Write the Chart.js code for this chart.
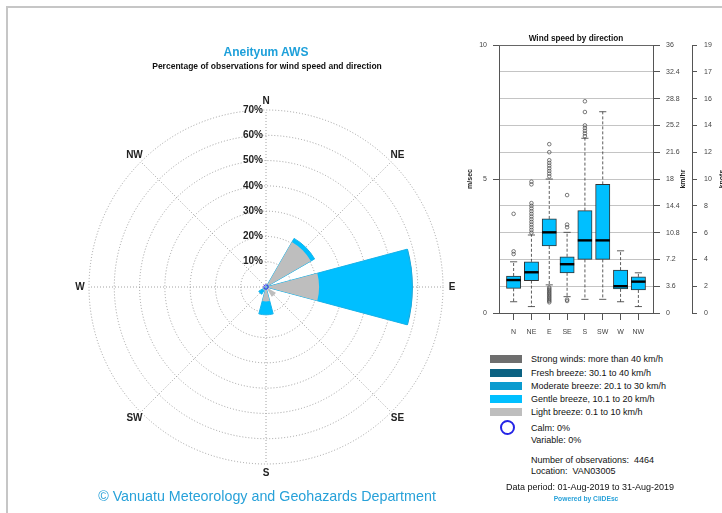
<!DOCTYPE html>
<html>
<head>
<meta charset="utf-8">
<script src="https://cdn.jsdelivr.net/npm/chart.js@4.4.1/dist/chart.umd.min.js"></script>
<style>
  html, body { margin: 0; padding: 0; background: #fff; }
  body { width: 722px; height: 513px; position: relative; overflow: hidden;
         font-family: "Liberation Sans", Arial, Helvetica, sans-serif; }
  .frame { position: absolute; left: 6px; top: 6px; width: 800px; height: 600px;
           border-left: 2px solid #c6c6c6; border-top: 2px solid #c6c6c6; }
  canvas { position: absolute; }
  #rose { left: 0; top: 0; }
  #box { left: 460px; top: 28px; }
  .t { position: absolute; white-space: nowrap; line-height: 1; }
  .c { transform: translate(-50%, -50%); }
  .l { transform: translateY(-50%); }
  .sw { position: absolute; width: 32px; height: 8px; }
  .calm { position: absolute; width: 11px; height: 11px; border: 2px solid #2424e6; border-radius: 50%; }
</style>
</head>
<body>
<div class="frame"></div>
<canvas id="rose" width="460" height="513"></canvas>
<canvas id="box" width="268" height="320"></canvas>

<div class="t c" style="left:266px; top:52px; font-size:12px; font-weight:bold; color:#1ea0da;">Aneityum AWS</div>
<div class="t c" style="left:267px; top:66px; font-size:8.5px; font-weight:bold; color:#111;">Percentage of observations for wind speed and direction</div>
<div class="t c" style="left:267px; top:496px; font-size:14.3px; color:#27a1d9;">© Vanuatu Meteorology and Geohazards Department</div>
<div class="t c" style="left:576px; top:39px; font-size:8.2px; font-weight:bold; color:#111;">Wind speed by direction</div>

<div id="legend"></div>
<div class="calm" style="left:500px; top:420px;"></div>
<div class="t l" style="left:531px; top:428px; font-size:9px; color:#111;">Calm: 0%</div>
<div class="t l" style="left:531px; top:440px; font-size:9px; color:#111;">Variable: 0%</div>
<div class="t l" style="left:531px; top:460px; font-size:9px; color:#111;">Number of observations:&nbsp; 4464</div>
<div class="t l" style="left:531px; top:471px; font-size:9px; color:#111;">Location:&nbsp; VAN03005</div>
<div class="t c" style="left:590px; top:486.5px; font-size:9px; color:#111;">Data period: 01-Aug-2019 to 31-Aug-2019</div>
<div class="t c" style="left:586px; top:499px; font-size:6.7px; font-weight:bold; color:#27a1d9;">Powered by CliDEsc</div>

<script>
// ---- Wind rose: percentage of observations by direction and speed class ----
const directions     = ['N', 'NE', 'E', 'SE', 'S', 'SW', 'W', 'NW'];
const lightBreeze    = [0.4, 20.5, 21.0, 4.5, 5.7, 1.5, 0.5, 0.3];
const gentleBreeze   = [0.0, 1.7, 36.8, 0.0, 5.3, 1.8, 0.0, 0.0];
const moderateBreeze = [0.0, 0.0, 0.3, 0.0, 0.0, 0.0, 0.0, 0.0];
const freshBreeze    = [0.0, 0.0, 0.0, 0.0, 0.0, 0.0, 0.0, 0.0];
const strongWinds    = [0.0, 0.0, 0.0, 0.0, 0.0, 0.0, 0.0, 0.0];
const ringValues     = [10, 20, 30, 40, 50, 60, 70];

const classNames = [
  'Strong winds: more than 40 km/h',
  'Fresh breeze: 30.1 to 40 km/h',
  'Moderate breeze: 20.1 to 30 km/h',
  'Gentle breeze, 10.1 to 20 km/h',
  'Light breeze: 0.1 to 10 km/h'
];
const classColors = ['#6e6e6e', '#0b6282', '#0a9bcf', '#00bfff', '#bebebe'];

// ---- Wind speed by direction (m/s) ----
const boxLabels    = ['N', 'NE', 'E', 'SE', 'S', 'SW', 'W', 'NW'];
const whiskerLow   = [0.42, 0.24, 1.05, 0.61, 0.51, 0.51, 0.42, 0.24];
const quartile1    = [0.92, 1.21, 2.50, 1.50, 2.00, 2.00, 0.90, 0.86];
const medians      = [1.23, 1.52, 3.01, 1.82, 2.71, 2.71, 1.00, 1.17];
const quartile3    = [1.38, 1.91, 3.51, 2.10, 3.82, 4.80, 1.60, 1.35];
const whiskerHigh  = [1.91, 2.91, 5.00, 3.01, 6.52, 7.51, 2.32, 1.50];
const outliers = [
  [2.2, 2.3, 3.7],
  [3.0, 3.1, 3.2, 3.3, 3.4, 3.5, 3.6, 3.7, 3.8, 3.9, 4.0, 4.1, 4.8, 4.9],
  [0.4, 0.45, 0.5, 0.55, 0.6, 0.65, 0.7, 0.75, 0.8, 0.85, 0.9, 0.95,
   5.1, 5.2, 5.3, 5.4, 5.5, 5.6, 5.7, 6.0, 6.3],
  [0.45, 0.5, 3.2, 3.3, 4.4],
  [6.6, 6.7, 6.8, 6.9, 7.0, 7.5, 7.9],
  [],
  [],
  []
];
const msTicks      = [0, 5, 10];
const kmhTicks     = [0, 3.6, 7.2, 10.8, 14.4, 18, 21.6, 25.2, 28.8, 32.4, 36];
const kmhLabels    = ['0', '3.6', '7.2', '10.8', '14.4', '18', '21.6', '25.2', '28.8', '32.4', '36'];
const knotLabels   = ['0', '2', '4', '6', '8', '10', '12', '14', '16', '17', '19'];

const FONT = '"Liberation Sans", Arial, Helvetica, sans-serif';

// legend rows (top to bottom: strong to light)
(function buildLegend() {
  const host = document.getElementById('legend');
  const rowY = [358.5, 372.5, 385.8, 398.8, 412];
  classNames.forEach((name, i) => {
    const sw = document.createElement('div');
    sw.className = 'sw';
    sw.style.left = '490px';
    sw.style.top = (rowY[i] - 4) + 'px';
    sw.style.background = classColors[i];
    host.appendChild(sw);
    const tx = document.createElement('div');
    tx.className = 't l';
    tx.style.cssText = 'left:531px; top:' + rowY[i] + 'px; font-size:9px; color:#111;';
    tx.textContent = name;
    host.appendChild(tx);
  });
})();

// ---------------- wind rose ----------------
// stacked speed classes, drawn as cumulative radii; light breeze first (on top)
const stackOrder = [lightBreeze, gentleBreeze, moderateBreeze, freshBreeze, strongWinds];
const stackColors = [classColors[4], classColors[3], classColors[2], classColors[1], classColors[0]];
let running = directions.map(() => 0);
const roseDatasets = stackOrder.map((vals, k) => {
  running = running.map((r, i) => r + vals[i]);
  const cum = running.map((r, i) => (vals[i] > 0 ? r : 0));
  return {
    data: cum.flatMap(v => [v, 0]),            // 30° sector followed by a 15° gap
    backgroundColor: stackColors[k],
    borderColor: k === 1 ? '#19b4ea' : stackColors[k],
    borderWidth: k === 1 ? 1 : 0,
    angle: ctx => (ctx.dataIndex % 2 === 0 ? 30 : 15)
  };
});

const roseDecor = {
  id: 'roseDecor',
  beforeDatasetsDraw(chart) {
    const s = chart.scales.r, ctx = chart.ctx;
    ctx.save();
    ctx.strokeStyle = '#8a8a8a';
    ctx.lineWidth = 0.8;
    ctx.setLineDash([1, 2]);
    directions.forEach((d, i) => {
      const a = (i * 45 - 90) * Math.PI / 180;
      ctx.beginPath();
      ctx.moveTo(s.xCenter, s.yCenter);
      ctx.lineTo(s.xCenter + s.drawingArea * Math.cos(a), s.yCenter + s.drawingArea * Math.sin(a));
      ctx.stroke();
    });
    ctx.restore();
  },
  afterDatasetsDraw(chart) {
    const s = chart.scales.r, ctx = chart.ctx;
    ctx.save();
    // calm marker
    ctx.strokeStyle = '#2424e6';
    ctx.lineWidth = 1;
    ctx.beginPath();
    ctx.arc(s.xCenter, s.yCenter, 2.2, 0, Math.PI * 2);
    ctx.stroke();
    // ring labels
    ctx.fillStyle = '#222';
    ctx.font = 'bold 10px ' + FONT;
    ctx.textAlign = 'right';
    ctx.textBaseline = 'middle';
    ringValues.forEach(v => {
      const r = s.getDistanceFromCenterForValue(v);
      ctx.fillText(v + '%', s.xCenter - 3, s.yCenter - r);
    });
    // compass labels
    ctx.textAlign = 'center';
    const lr = s.drawingArea + 9;
    directions.forEach((d, i) => {
      const a = (i * 45 - 90) * Math.PI / 180;
      ctx.fillText(d, s.xCenter + lr * Math.cos(a), s.yCenter + lr * Math.sin(a));
    });
    ctx.restore();
  }
};

new Chart(document.getElementById('rose'), {
  type: 'polarArea',
  data: { labels: directions.flatMap(d => [d, '']), datasets: roseDatasets },
  options: {
    responsive: false,
    animation: false,
    events: [],
    layout: { padding: { left: 89, top: 110, right: 17, bottom: 49 } },
    plugins: { legend: { display: false }, tooltip: { enabled: false } },
    scales: {
      r: {
        min: 0, max: 70,
        startAngle: -15,
        ticks: { display: false, stepSize: 10 },
        grid: { circular: true, color: '#8a8a8a', lineWidth: 0.8 },
        border: { dash: [1, 2] },
        angleLines: { display: false },
        pointLabels: { display: false }
      }
    }
  },
  plugins: [roseDecor]
});

// ---------------- box plot ----------------
const BOX_W = 14.3;
const boxDecor = {
  id: 'boxDecor',
  afterDatasetsDraw(chart) {
    const x = chart.scales.x, y = chart.scales.y, ctx = chart.ctx;
    ctx.save();
    boxLabels.forEach((lab, i) => {
      const px = x.getPixelForValue(i + 1);
      ctx.strokeStyle = '#333';
      ctx.lineWidth = 0.8;
      ctx.setLineDash([3, 2]);
      ctx.beginPath();
      ctx.moveTo(px, y.getPixelForValue(quartile3[i]));
      ctx.lineTo(px, y.getPixelForValue(whiskerHigh[i]));
      ctx.moveTo(px, y.getPixelForValue(quartile1[i]));
      ctx.lineTo(px, y.getPixelForValue(whiskerLow[i]));
      ctx.stroke();
      ctx.setLineDash([]);
      ctx.beginPath();
      [whiskerHigh[i], whiskerLow[i]].forEach(v => {
        const py = y.getPixelForValue(v);
        ctx.moveTo(px - BOX_W / 4, py);
        ctx.lineTo(px + BOX_W / 4, py);
      });
      ctx.stroke();
      ctx.strokeStyle = '#000';
      ctx.lineWidth = 2.4;
      ctx.beginPath();
      const my = y.getPixelForValue(medians[i]);
      ctx.moveTo(px - BOX_W / 2, my);
      ctx.lineTo(px + BOX_W / 2, my);
      ctx.stroke();
    });
    ctx.restore();
  },
  afterDraw(chart) {
    const a = chart.chartArea, ctx = chart.ctx;
    ctx.save();
    ctx.strokeStyle = '#666';
    ctx.lineWidth = 1;
    ctx.beginPath();
    ctx.moveTo(a.left, Math.round(a.top) + 0.5);
    ctx.lineTo(a.right, Math.round(a.top) + 0.5);
    ctx.stroke();
    // axis titles
    ctx.fillStyle = '#222';
    ctx.font = 'bold 7px ' + FONT;
    ctx.textAlign = 'center';
    ctx.textBaseline = 'middle';
    const midY = (a.top + a.bottom) / 2;
    [['m/sec', 10], ['km/hr', 223], ['knots', 262]].forEach(([txt, cx]) => {
      ctx.save();
      ctx.translate(cx, midY);
      ctx.rotate(-Math.PI / 2);
      ctx.fillText(txt, 0, 0);
      ctx.restore();
    });
    ctx.restore();
  }
};

const fixedTicks = vals => scale => { scale.ticks = vals.map(v => ({ value: v })); };

new Chart(document.getElementById('box'), {
  type: 'bar',
  data: {
    datasets: [
      {
        type: 'bar',
        data: boxLabels.map((l, i) => ({ x: i + 1, y: [quartile1[i], quartile3[i]] })),
        backgroundColor: '#00bfff',
        borderColor: '#333',
        borderWidth: 1,
        borderSkipped: false,
        barThickness: BOX_W,
        xAxisID: 'x', yAxisID: 'y'
      },
      {
        type: 'scatter',
        data: outliers.flatMap((vals, i) => vals.map(v => ({ x: i + 1, y: v }))),
        pointStyle: 'circle',
        pointRadius: 1.8,
        backgroundColor: 'rgba(0,0,0,0)',
        borderColor: '#444',
        borderWidth: 0.7,
        xAxisID: 'x', yAxisID: 'y'
      }
    ]
  },
  options: {
    responsive: false,
    animation: false,
    events: [],
    layout: { padding: { top: 17, left: 0, right: 0, bottom: 0 } },
    plugins: { legend: { display: false }, tooltip: { enabled: false } },
    scales: {
      x: {
        type: 'linear', position: 'bottom',
        min: 0.18, max: 8.82, offset: false,
        afterBuildTicks: fixedTicks(boxLabels.map((l, i) => i + 1)),
        ticks: { callback: v => boxLabels[v - 1], font: { size: 7, family: FONT }, color: '#444',
                 padding: 8, autoSkip: false, maxRotation: 0 },
        grid: { drawOnChartArea: false, offset: false, tickLength: 7, color: '#555', tickColor: '#555' },
        border: { display: true, color: '#555' },
        afterFit: s => { s.height = 35; }
      },
      y: {
        type: 'linear', position: 'left', min: 0, max: 10,
        afterBuildTicks: fixedTicks(msTicks),
        ticks: { font: { size: 7, family: FONT }, color: '#444', padding: 6, autoSkip: false },
        grid: { drawOnChartArea: false, tickLength: 6, color: '#555', tickColor: '#555' },
        border: { display: true, color: '#555' },
        afterFit: s => { s.width = 39; }
      },
      kmh: {
        type: 'linear', position: 'right', min: 0, max: 36,
        afterBuildTicks: fixedTicks(kmhTicks),
        ticks: { callback: (v, i) => kmhLabels[i], font: { size: 7, family: FONT }, color: '#444',
                 padding: 6, autoSkip: false },
        grid: { drawOnChartArea: true, color: '#c4c4c4', tickColor: '#555', tickLength: 7 },
        border: { display: true, color: '#555' },
        afterFit: s => { s.width = 39; }
      },
      kn: {
        type: 'linear', position: 'right', min: 0, max: 36,
        afterBuildTicks: fixedTicks(kmhTicks),
        ticks: { callback: (v, i) => knotLabels[i], font: { size: 7, family: FONT }, color: '#444',
                 padding: 7, autoSkip: false },
        grid: { drawOnChartArea: false, color: '#555', tickColor: '#555', tickLength: 5 },
        border: { display: true, color: '#555' },
        afterFit: s => { s.width = 36; }
      }
    }
  },
  plugins: [boxDecor]
});
</script>
</body>
</html>
